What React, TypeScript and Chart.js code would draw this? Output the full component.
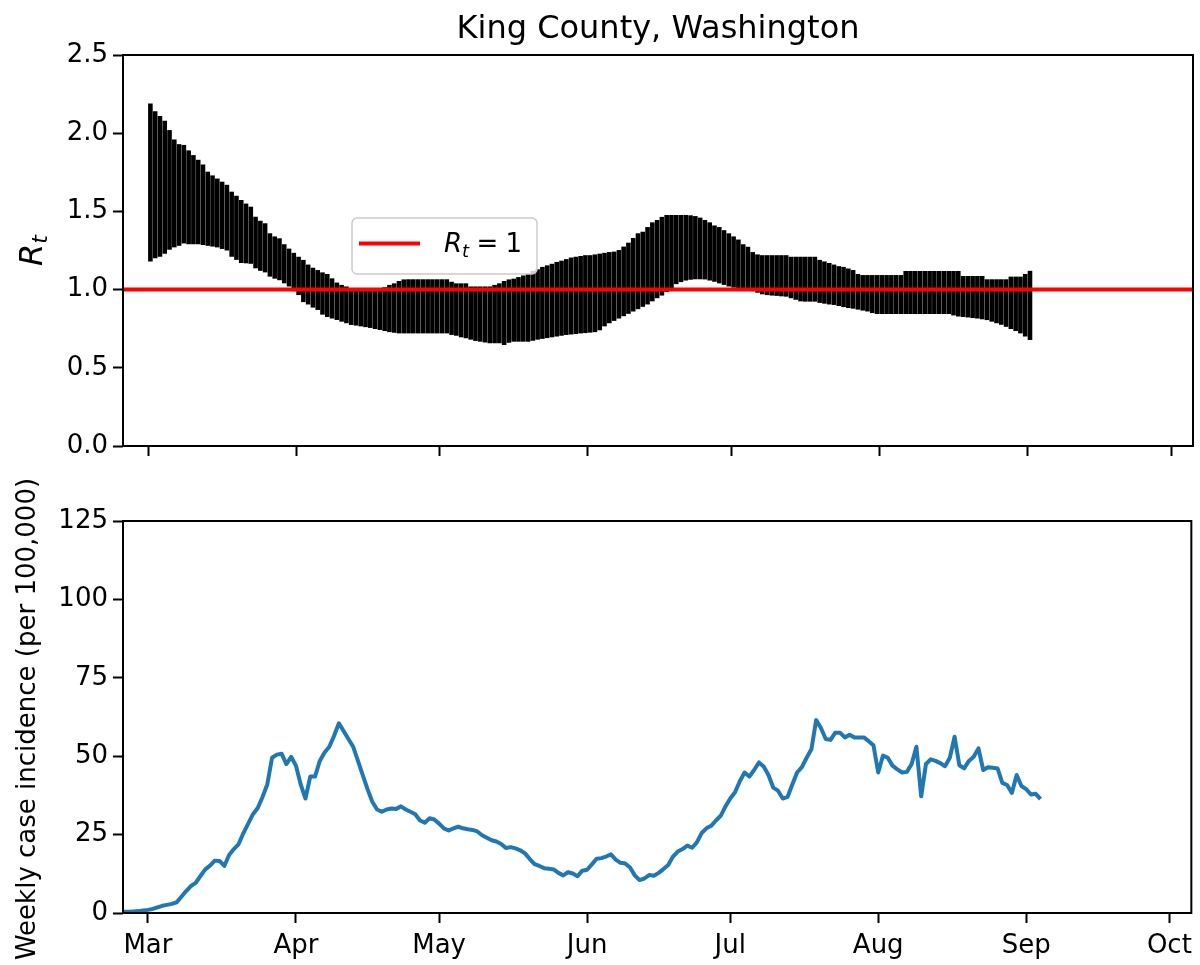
import React, { useEffect, useRef } from "react";
import { Chart, registerables } from "chart.js";

Chart.register(...registerables);

// ---------- data ----------
const monthLabels = ["Mar", "Apr", "May", "Jun", "Jul", "Aug", "Sep", "Oct"];
// day offsets from 1 March 2020
const monthStartDays = [0, 31, 61, 92, 122, 153, 184, 214];
const xMinDay = -5.23;
const xMaxDay = 218.6;

const rtTickValues = [0, 0.5, 1, 1.5, 2, 2.5];
const incidenceTickValues = [0, 25, 50, 75, 100, 125];
const rtReference = 1;

// Rt credible interval, one bar per day starting 1 March
const rtLow = [
  1.18, 1.2, 1.21, 1.23, 1.255, 1.27, 1.28, 1.295, 1.29, 1.29,
  1.29, 1.285, 1.28, 1.275, 1.27, 1.26, 1.25, 1.21, 1.19, 1.17,
  1.168, 1.165, 1.136, 1.12, 1.11, 1.083, 1.07, 1.06, 1.04, 1.02,
  0.99, 0.965, 0.92, 0.905, 0.885, 0.87, 0.84, 0.825, 0.815, 0.806,
  0.795, 0.785, 0.774, 0.77, 0.765, 0.76, 0.755, 0.748, 0.742, 0.735,
  0.728, 0.724, 0.72, 0.72, 0.72, 0.72, 0.72, 0.72, 0.72, 0.72,
  0.72, 0.72, 0.72, 0.71, 0.705, 0.695, 0.689, 0.68, 0.672, 0.667,
  0.662, 0.657, 0.657, 0.657, 0.646, 0.66, 0.667, 0.667, 0.667, 0.667,
  0.673, 0.68, 0.685, 0.69, 0.695, 0.7, 0.705, 0.71, 0.713, 0.716,
  0.72, 0.722, 0.725, 0.728, 0.74, 0.765, 0.785, 0.8, 0.815, 0.83,
  0.845, 0.86, 0.875, 0.89, 0.905, 0.925, 0.945, 0.962, 0.985, 1.01,
  1.035, 1.048, 1.058, 1.063, 1.066, 1.066, 1.065, 1.058, 1.05, 1.04,
  1.03, 1.02, 1.013, 1.007, 1.002, 0.998, 0.99, 0.98, 0.97, 0.965,
  0.962, 0.96, 0.957, 0.955, 0.945, 0.935, 0.925, 0.923, 0.923, 0.923,
  0.915, 0.91, 0.905, 0.902, 0.895, 0.888, 0.882, 0.878, 0.872, 0.866,
  0.86, 0.85, 0.844, 0.844, 0.844, 0.844, 0.844, 0.844, 0.844, 0.844,
  0.844, 0.844, 0.844, 0.844, 0.844, 0.844, 0.844, 0.844, 0.835, 0.828,
  0.825, 0.822, 0.818, 0.815, 0.81, 0.805, 0.795, 0.785, 0.775, 0.762,
  0.748, 0.735, 0.72, 0.7, 0.678,
];
const rtHigh = [
  2.19, 2.14, 2.11, 2.08, 2.02, 1.96, 1.93, 1.925, 1.89, 1.86,
  1.83, 1.8, 1.754, 1.73, 1.71, 1.69, 1.67, 1.626, 1.6, 1.573,
  1.55, 1.53, 1.466, 1.44, 1.424, 1.36, 1.34, 1.328, 1.29, 1.262,
  1.235, 1.21, 1.19, 1.16, 1.14, 1.125, 1.11, 1.1, 1.072, 1.045,
  1.03, 1.02, 1.01, 1.0, 1.0, 1.0, 1.0, 1.0, 1.005, 1.015,
  1.03, 1.04, 1.055, 1.065, 1.066, 1.066, 1.066, 1.066, 1.066, 1.066,
  1.066, 1.066, 1.066, 1.05, 1.04, 1.04, 1.04, 1.02, 1.02, 1.02,
  1.02, 1.02, 1.03, 1.04, 1.055, 1.065, 1.07, 1.08, 1.09, 1.1,
  1.12, 1.13, 1.145, 1.155, 1.165, 1.177, 1.185, 1.195, 1.205, 1.21,
  1.215, 1.22, 1.22, 1.225, 1.23, 1.235, 1.24, 1.243, 1.253, 1.275,
  1.3, 1.33, 1.36, 1.37, 1.4, 1.43, 1.445, 1.465, 1.477, 1.477,
  1.477, 1.477, 1.477, 1.475, 1.47, 1.46, 1.445, 1.43, 1.41, 1.4,
  1.38, 1.36, 1.34, 1.32, 1.29, 1.274, 1.24, 1.225, 1.22, 1.22,
  1.22, 1.22, 1.22, 1.22, 1.21, 1.21, 1.21, 1.21, 1.21, 1.21,
  1.19, 1.18, 1.17, 1.16, 1.15, 1.145, 1.135, 1.125, 1.1, 1.093,
  1.093, 1.093, 1.093, 1.093, 1.093, 1.093, 1.093, 1.093, 1.119, 1.119,
  1.119, 1.119, 1.119, 1.119, 1.119, 1.119, 1.119, 1.119, 1.119, 1.119,
  1.087, 1.087, 1.087, 1.087, 1.087, 1.066, 1.066, 1.066, 1.066, 1.066,
  1.083, 1.083, 1.083, 1.1, 1.12,
];
const rtDayOffset = 0.5;

// weekly case incidence per 100,000, daily from 24 February
const incidenceStartDay = -6;
const incidence = [
  0.3, 0.4, 0.4, 0.5, 0.6, 0.8,
  1.0, 1.3, 1.8, 2.3, 2.6, 2.9, 3.4, 5.2, 7.0, 8.6,
  9.6, 11.8, 13.9, 15.1, 16.7, 16.6, 15.0, 18.5, 20.4, 22.0,
  25.5, 28.5, 31.5, 33.5, 37.0, 41.0, 49.5, 50.5, 50.8, 47.5,
  49.8, 47.0, 41.0, 36.5, 43.5, 43.5, 48.5, 51.2, 53.0, 56.5,
  60.5, 58.0, 55.5, 53.0, 48.5, 44.0, 39.5, 35.5, 33.0, 32.3,
  33.0, 33.3, 33.2, 34.0, 33.0, 32.3, 31.5, 29.5, 28.8, 30.2,
  29.8, 28.5, 27.0, 26.3, 27.0, 27.5, 27.0, 26.7, 26.5, 26.0,
  24.8, 24.0, 23.2, 22.8, 22.0, 20.7, 21.0, 20.6, 20.0, 19.0,
  17.2, 15.6, 15.0, 14.3, 14.1, 13.9, 12.8, 12.0, 13.0, 12.6,
  11.7, 13.5, 13.8, 15.5, 17.3, 17.5, 18.0, 18.7, 17.0, 16.0,
  15.8, 14.5, 12.0, 10.5, 11.0, 12.1, 11.9, 12.8, 14.0, 15.3,
  18.0, 19.6, 20.4, 21.5, 20.8, 22.5, 25.5, 27.0, 27.8, 29.5,
  31.0, 34.0, 36.5, 38.5, 42.0, 44.8, 43.5, 45.6, 48.0, 46.7,
  44.0, 40.0, 39.0, 36.5, 37.0, 41.0, 44.8, 46.5, 49.5, 52.2,
  61.5, 59.0, 55.5, 55.2, 57.5, 57.5, 56.0, 56.8, 56.0, 56.0,
  56.0, 54.8, 53.5, 44.8, 50.2, 49.5, 47.0, 45.8, 44.8, 45.0,
  47.5, 53.0, 37.2, 47.5, 49.0, 48.5, 47.8, 46.8, 49.5, 56.2,
  47.1, 46.1, 48.5, 49.8, 52.5, 45.6, 46.5, 46.3, 46.1, 41.5,
  40.8, 38.3, 44.0, 40.5, 39.5, 37.8, 38.0, 36.3,
];

// ---------- styling ----------
const FONT = "'DejaVu Sans', sans-serif";
const TICK_FONT = { family: FONT, size: 26 };
const AXIS_W = 123;

const tickGrid = {
  display: true,
  drawOnChartArea: false,
  drawTicks: true,
  tickLength: 10,
  tickWidth: 2,
  tickColor: "#000",
  offset: false,
};

function makeXScale(showLabels: boolean, height: number) {
  return {
    type: "linear",
    min: xMinDay,
    max: xMaxDay,
    offset: false,
    afterBuildTicks: (s: any) => {
      s.ticks = monthStartDays.map((v) => ({ value: v }));
    },
    afterFit: (s: any) => {
      s.height = height;
    },
    grid: tickGrid,
    border: { display: false },
    ticks: {
      display: showLabels,
      autoSkip: false,
      maxRotation: 0,
      minRotation: 0,
      padding: 8,
      color: "#000",
      font: TICK_FONT,
      callback: (v: any) => {
        const i = monthStartDays.indexOf(Number(v));
        return i >= 0 ? monthLabels[i] : "";
      },
    },
  };
}

function makeYScale(min: number, max: number, values: number[], fmt: (v: number) => string) {
  return {
    type: "linear",
    min,
    max,
    afterBuildTicks: (s: any) => {
      s.ticks = values.map((v) => ({ value: v }));
    },
    afterFit: (s: any) => {
      s.width = AXIS_W;
    },
    grid: tickGrid,
    border: { display: false },
    ticks: {
      padding: 5,
      color: "#000",
      font: TICK_FONT,
      callback: (v: any) => fmt(Number(v)),
    },
  };
}

function drawFrame(ctx: CanvasRenderingContext2D, a: any) {
  ctx.strokeStyle = "#000";
  ctx.lineWidth = 2;
  ctx.strokeRect(a.left, a.top, a.right - a.left, a.bottom - a.top);
}

const topDecor = {
  id: "topDecor",
  afterDraw(chart: any) {
    const { ctx, chartArea: a } = chart;
    ctx.save();
    drawFrame(ctx, a);

    // legend
    const bx = a.left + 229;
    const by = a.top + 163;
    const bw = 185;
    const bh = 56;
    ctx.beginPath();
    ctx.roundRect(bx, by, bw, bh, 5);
    ctx.fillStyle = "rgba(255,255,255,0.8)";
    ctx.fill();
    ctx.strokeStyle = "#cccccc";
    ctx.lineWidth = 1.5;
    ctx.stroke();
    ctx.beginPath();
    ctx.strokeStyle = "#ff0000";
    ctx.lineWidth = 4;
    ctx.moveTo(bx + 7, by + 25.5);
    ctx.lineTo(bx + 68, by + 25.5);
    ctx.stroke();
    ctx.fillStyle = "#000";
    ctx.textBaseline = "alphabetic";
    ctx.textAlign = "left";
    const tx = bx + 92;
    const ty = by + 34;
    ctx.font = `italic 26px ${FONT}`;
    ctx.fillText("R", tx, ty);
    const rw = ctx.measureText("R").width;
    ctx.font = `italic 18px ${FONT}`;
    ctx.fillText("t", tx + rw, ty + 4.5);
    const sw = ctx.measureText("t").width;
    ctx.font = `26px ${FONT}`;
    const eqX = tx + rw + sw + 7.3;
    ctx.fillText("=", eqX, ty);
    const ew = ctx.measureText("=").width;
    ctx.fillText("1", eqX + ew + 7.3, ty);

    // title
    ctx.font = `32px ${FONT}`;
    ctx.textAlign = "center";
    ctx.fillText("King County, Washington", (a.left + a.right) / 2, a.top - 17);

    // y label R_t
    ctx.translate(42, (a.top + a.bottom) / 2 + 15.5);
    ctx.rotate(-Math.PI / 2);
    ctx.textAlign = "left";
    ctx.font = `italic 32px ${FONT}`;
    ctx.fillText("R", 0, 0);
    const w = ctx.measureText("R").width;
    ctx.font = `italic 22px ${FONT}`;
    ctx.fillText("t", w, 5);
    ctx.restore();
  },
};

const bottomDecor = {
  id: "bottomDecor",
  afterDraw(chart: any) {
    const { ctx, chartArea: a } = chart;
    ctx.save();
    drawFrame(ctx, a);
    ctx.fillStyle = "#000";
    ctx.translate(35, (a.top + a.bottom) / 2 + 2);
    ctx.rotate(-Math.PI / 2);
    ctx.textAlign = "center";
    ctx.textBaseline = "alphabetic";
    ctx.font = `26px ${FONT}`;
    ctx.fillText("Weekly case incidence (per 100,000)", 0, 0);
    ctx.restore();
  },
};

export default function App() {
  const topRef = useRef<HTMLCanvasElement>(null);
  const botRef = useRef<HTMLCanvasElement>(null);

  useEffect(() => {
    if (!topRef.current || !botRef.current) return;

    const bars = rtLow.map((lo, i) => ({ x: i + rtDayOffset, y: [lo, rtHigh[i]] }));
    const refLine = [
      { x: xMinDay, y: rtReference },
      { x: xMaxDay, y: rtReference },
    ];
    const incPoints = incidence.map((v, i) => ({ x: incidenceStartDay + i, y: v }));

    const c1 = new Chart(topRef.current, {
      type: "bar",
      data: {
        datasets: [
          {
            type: "line",
            label: "Rt = 1",
            data: refLine,
            borderColor: "#ff0000",
            borderWidth: 4,
            pointRadius: 0,
            order: 0,
          } as any,
          {
            type: "bar",
            label: "Rt",
            data: bars,
            backgroundColor: "#000000",
            borderWidth: 0,
            categoryPercentage: 1,
            barPercentage: 0.96,
            order: 1,
          } as any,
        ],
      },
      options: {
        responsive: false,
        animation: false,
        devicePixelRatio: 1,
        events: [],
        layout: { padding: { left: 0, right: 7, top: 55, bottom: 0 } },
        plugins: { legend: { display: false }, tooltip: { enabled: false }, title: { display: false } },
        scales: {
          x: makeXScale(false, 34) as any,
          y: makeYScale(0, 2.5, rtTickValues, (v) => v.toFixed(1)) as any,
        },
      },
      plugins: [topDecor],
    });

    const c2 = new Chart(botRef.current, {
      type: "line",
      data: {
        datasets: [
          {
            label: "Weekly case incidence",
            data: incPoints,
            borderColor: "#1f77b4",
            borderWidth: 4,
            pointRadius: 0,
            tension: 0,
            borderJoinStyle: "round",
            borderCapStyle: "butt",
          } as any,
        ],
      },
      options: {
        responsive: false,
        animation: false,
        devicePixelRatio: 1,
        events: [],
        layout: { padding: { left: 0, right: 7, top: 41, bottom: 0 } },
        plugins: { legend: { display: false }, tooltip: { enabled: false }, title: { display: false } },
        scales: {
          x: makeXScale(true, 52) as any,
          y: makeYScale(0, 125, incidenceTickValues, (v) => String(Math.round(v))) as any,
        },
      },
      plugins: [bottomDecor],
    });

    return () => {
      c1.destroy();
      c2.destroy();
    };
  }, []);

  return (
    <div style={{ position: "absolute", left: 0, top: 0, width: 1200, height: 965, background: "#fff" }}>
      <canvas
        ref={topRef}
        width={1200}
        height={480}
        style={{ position: "absolute", left: 0, top: 0, width: 1200, height: 480 }}
      />
      <canvas
        ref={botRef}
        width={1200}
        height={485}
        style={{ position: "absolute", left: 0, top: 480, width: 1200, height: 485 }}
      />
    </div>
  );
}
